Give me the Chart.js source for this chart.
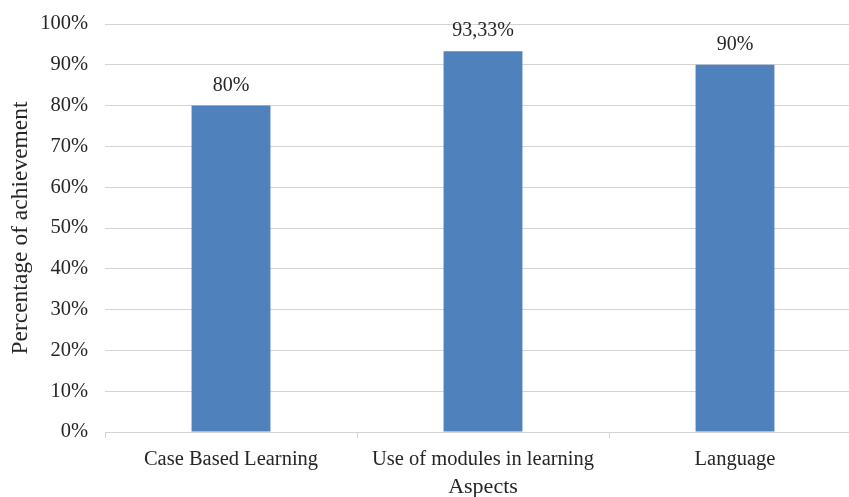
<!DOCTYPE html>
<html>
<head>
<meta charset="utf-8">
<script src="https://cdn.jsdelivr.net/npm/chart.js@4"></script>
<style>
  html, body { margin: 0; padding: 0; background: #fff; overflow: hidden; }
  #wrap { width: 849px; height: 497px; overflow: hidden; position: relative; }
  canvas { display: block; }
</style>
</head>
<body>
<div id="wrap"><canvas id="chart" width="866" height="497"></canvas></div>
<script>
// Achievement per aspect (percent)
const categories = ['Case Based Learning', 'Use of modules in learning', 'Language'];
const achievement = [80, 93.33, 90];
const yTicks = [0, 10, 20, 30, 40, 50, 60, 70, 80, 90, 100];

const FONT = '"Liberation Serif", "Times New Roman", serif';
const GRID = '#d4d4d4';
const TEXT = '#262626';

function pct(v) {
  return (Number.isInteger(v) ? String(v) : v.toFixed(2).replace('.', ',')) + '%';
}

// Value labels above each bar
const valueLabels = {
  id: 'valueLabels',
  afterDatasetsDraw(chart) {
    const ctx = chart.ctx;
    const meta = chart.getDatasetMeta(0);
    ctx.save();
    ctx.font = '20px ' + FONT;
    ctx.fillStyle = TEXT;
    ctx.textAlign = 'center';
    ctx.textBaseline = 'middle';
    meta.data.forEach((bar, i) => {
      ctx.fillText(pct(chart.data.datasets[0].data[i]), bar.x, bar.y - 20);
    });
    ctx.restore();
  }
};

new Chart(document.getElementById('chart'), {
  type: 'bar',
  data: {
    labels: categories,
    datasets: [{
      data: achievement,
      backgroundColor: '#4f81bd',
      borderWidth: 0,
      categoryPercentage: 1,
      barPercentage: 0.313
    }]
  },
  options: {
    responsive: false,
    animation: false,
    devicePixelRatio: 1,
    layout: { padding: { top: 24, right: 5, bottom: 0, left: 0 } },
    plugins: { legend: { display: false }, tooltip: { enabled: false } },
    scales: {
      x: {
        afterFit(scale) { scale.height = 65; },
        grid: { drawOnChartArea: false, drawTicks: true, tickLength: 6, offset: true, color: GRID },
        border: { display: true, color: GRID },
        ticks: { color: TEXT, font: { family: FONT, size: 20.5 }, padding: 9, maxRotation: 0 },
        title: { display: true, text: 'Aspects', color: TEXT, font: { family: FONT, size: 22 }, padding: { top: 0, bottom: -3 } }
      },
      y: {
        min: 0,
        max: 100,
        afterFit(scale) {
          scale.width = 105;
          scale.paddingTop = 0;
          scale.paddingBottom = 0;
        },
        afterBuildTicks(scale) { scale.ticks = yTicks.map(v => ({ value: v })); },
        grid: { color: GRID, drawTicks: false },
        border: { display: false },
        ticks: { color: TEXT, font: { family: FONT, size: 20.5 }, padding: 17, callback: v => v + '%' },
        title: { display: true, text: 'Percentage of achievement', color: TEXT, font: { family: FONT, size: 23.5 }, padding: { top: 7, bottom: 0 } }
      }
    }
  },
  plugins: [valueLabels]
});
</script>
</body>
</html>
